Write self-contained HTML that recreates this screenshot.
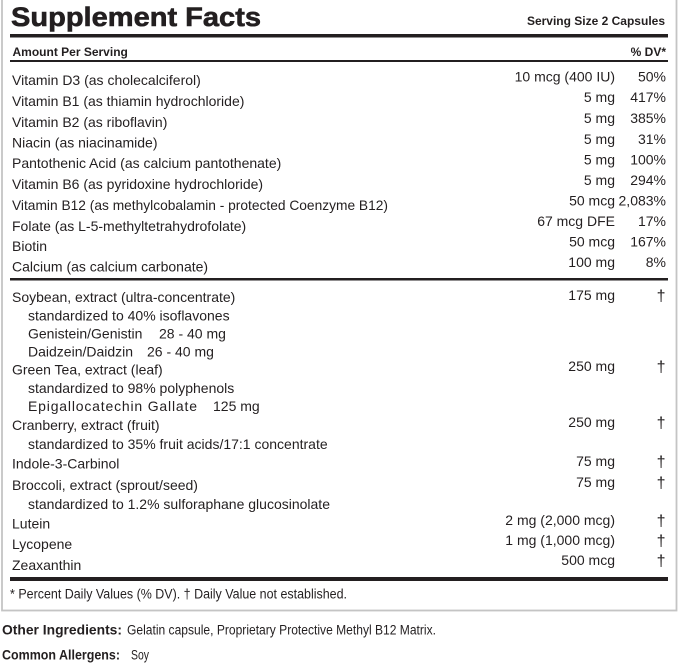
<!DOCTYPE html>
<html>
<head>
<meta charset="utf-8">
<style>
  html,body{margin:0;padding:0;background:#fff;}
  svg{display:block;}
  text{font-family:"Liberation Sans",Arial,sans-serif;fill:#231f20;}
  .r{font-size:14px;}
  .b{font-weight:bold;}
  .e{text-anchor:end;}
  .d{font-size:16px;text-anchor:end;}
</style>
</head>
<body>
<svg width="679" height="663" viewBox="0 0 679 663" xmlns="http://www.w3.org/2000/svg">
  <rect x="0" y="0" width="679" height="663" fill="#fff"/>
  <!-- box border -->
  <rect x="2" y="-5" width="674.5" height="615.5" fill="none" stroke="#c4c4c4" stroke-width="1.8"/>

  <!-- title -->
  <text x="11" y="26" class="b" font-size="27" textLength="250" lengthAdjust="spacingAndGlyphs" stroke="#231f20" stroke-width="0.6">Supplement Facts</text>
  <text x="665" y="25" class="b e" font-size="12">Serving Size 2 Capsules</text>

  <rect x="10" y="34" width="658" height="3.5" fill="#231f20"/>

  <text x="12.5" y="56" class="b" font-size="12">Amount Per Serving</text>
  <text x="666" y="56" class="b e" font-size="12">% DV*</text>

  <rect x="10" y="60" width="658" height="2" fill="#231f20"/>

  <!-- vitamins -->
  <g class="r">
    <text x="12" y="85" class="r">Vitamin D3 (as cholecalciferol)</text>
    <text x="12" y="106" class="r">Vitamin B1 (as thiamin hydrochloride)</text>
    <text x="12" y="127" class="r">Vitamin B2 (as riboflavin)</text>
    <text x="12" y="147.5" class="r">Niacin (as niacinamide)</text>
    <text x="12" y="168" class="r">Pantothenic Acid (as calcium pantothenate)</text>
    <text x="12" y="189" class="r">Vitamin B6 (as pyridoxine hydrochloride)</text>
    <text x="12" y="210" class="r" textLength="376" lengthAdjust="spacingAndGlyphs">Vitamin B12 (as methylcobalamin - protected Coenzyme B12)</text>
    <text x="12" y="231" class="r">Folate (as L-5-methyltetrahydrofolate)</text>
    <text x="12" y="251" class="r">Biotin</text>
    <text x="12" y="271.5" class="r">Calcium (as calcium carbonate)</text>

    <text x="615" y="81.5" class="r e">10 mcg (400 IU)</text>
    <text x="615" y="102" class="r e">5 mg</text>
    <text x="615" y="123" class="r e">5 mg</text>
    <text x="615" y="144" class="r e">5 mg</text>
    <text x="615" y="164.5" class="r e">5 mg</text>
    <text x="615" y="185" class="r e">5 mg</text>
    <text x="615" y="205.5" class="r e">50 mcg</text>
    <text x="615" y="226" class="r e">67 mcg DFE</text>
    <text x="615" y="246.5" class="r e">50 mcg</text>
    <text x="615" y="267" class="r e">100 mg</text>

    <text x="666" y="81.5" class="r e">50%</text>
    <text x="666" y="102" class="r e">417%</text>
    <text x="666" y="123" class="r e">385%</text>
    <text x="666" y="144" class="r e">31%</text>
    <text x="666" y="164.5" class="r e">100%</text>
    <text x="666" y="185" class="r e">294%</text>
    <text x="666" y="205.5" class="r e">2,083%</text>
    <text x="666" y="226" class="r e">17%</text>
    <text x="666" y="246.5" class="r e">167%</text>
    <text x="666" y="267" class="r e">8%</text>
  </g>

  <rect x="10" y="278" width="658" height="2.5" fill="#231f20"/>

  <!-- extracts -->
  <text x="12" y="302" class="r">Soybean, extract (ultra-concentrate)</text>
  <text x="28" y="320.5" class="r">standardized to 40% isoflavones</text>
  <text x="28" y="338.5" class="r">Genistein/Genistin</text>
  <text x="159" y="338.5" class="r">28 - 40 mg</text>
  <text x="28" y="356.5" class="r">Daidzein/Daidzin</text>
  <text x="147" y="356.5" class="r">26 - 40 mg</text>
  <text x="12" y="374.5" class="r">Green Tea, extract (leaf)</text>
  <text x="28" y="393" class="r">standardized to 98% polyphenols</text>
  <text x="28" y="411" class="r" textLength="169" lengthAdjust="spacing">Epigallocatechin Gallate</text>
  <text x="213" y="411" class="r">125 mg</text>
  <text x="12" y="430" class="r">Cranberry, extract (fruit)</text>
  <text x="28" y="449" class="r">standardized to 35% fruit acids/17:1 concentrate</text>
  <text x="12" y="468.5" class="r">Indole-3-Carbinol</text>
  <text x="12" y="490" class="r">Broccoli, extract (sprout/seed)</text>
  <text x="28" y="509" class="r">standardized to 1.2% sulforaphane glucosinolate</text>
  <text x="12" y="528.5" class="r">Lutein</text>
  <text x="12" y="549" class="r">Lycopene</text>
  <text x="12" y="570" class="r">Zeaxanthin</text>

  <text x="615" y="300" class="r e">175 mg</text>
  <text x="615" y="371" class="r e">250 mg</text>
  <text x="615" y="427" class="r e">250 mg</text>
  <text x="615" y="466" class="r e">75 mg</text>
  <text x="615" y="487" class="r e">75 mg</text>
  <text x="615" y="525" class="r e">2 mg (2,000 mcg)</text>
  <text x="615" y="545" class="r e">1 mg (1,000 mcg)</text>
  <text x="615" y="565" class="r e">500 mcg</text>

  <text x="665.5" y="301" class="d">†</text>
  <text x="665.5" y="372" class="d">†</text>
  <text x="665.5" y="428" class="d">†</text>
  <text x="665.5" y="467" class="d">†</text>
  <text x="665.5" y="488" class="d">†</text>
  <text x="665.5" y="526" class="d">†</text>
  <text x="665.5" y="546" class="d">†</text>
  <text x="665.5" y="566" class="d">†</text>

  <rect x="10" y="577" width="658" height="4" fill="#231f20"/>

  <text x="10" y="598.5" font-size="13.5" textLength="337" lengthAdjust="spacingAndGlyphs">* Percent Daily Values (% DV). † Daily Value not established.</text>

  <!-- bottom -->
  <text x="2" y="634.5" class="b" font-size="13.5" textLength="120" lengthAdjust="spacingAndGlyphs">Other Ingredients:</text>
  <text x="127" y="634.5" font-size="13.5" textLength="309" lengthAdjust="spacingAndGlyphs">Gelatin capsule, Proprietary Protective Methyl B12 Matrix.</text>
  <text x="2" y="659.5" class="b" font-size="13.5" textLength="118" lengthAdjust="spacingAndGlyphs">Common Allergens:</text>
  <text x="131" y="659.5" font-size="13.5" textLength="18" lengthAdjust="spacingAndGlyphs">Soy</text>
</svg>
</body>
</html>
